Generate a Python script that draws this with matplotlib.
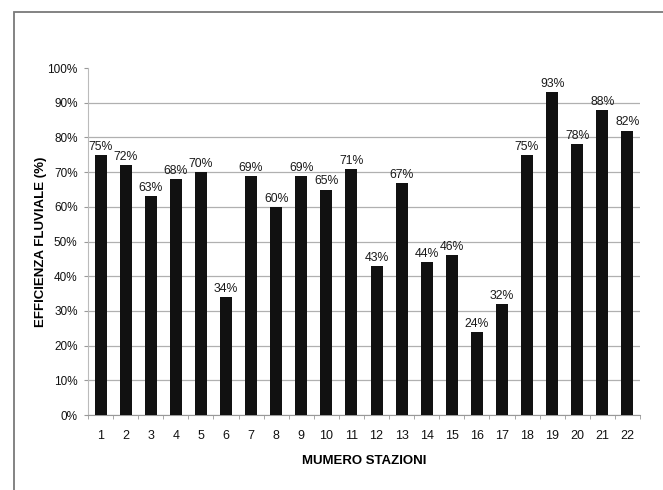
import numpy as np
import matplotlib.pyplot as plt
from matplotlib.patches import Rectangle
from matplotlib.ticker import FixedLocator

plt.rcParams['font.family'] = ['Liberation Sans', 'DejaVu Sans']

stazioni = np.arange(1, 23)
efficienza = [75, 72, 63, 68, 70, 34, 69, 60, 69, 65, 71,
              43, 67, 44, 46, 24, 32, 75, 93, 78, 88, 82]
yticks = [0, 10, 20, 30, 40, 50, 60, 70, 80, 90, 100]


def main():
    fig = plt.figure(figsize=(6.63, 4.9), dpi=100)
    ax = fig.add_axes([0.1327, 0.153, 0.8326, 0.708])

    # cornice grigia attorno al grafico
    fig.patches.append(Rectangle((0.021, -0.2), 1.2, 0.2 + 0.9755,
                                 transform=fig.transFigure, fill=False,
                                 edgecolor='#7a7a7a', linewidth=1.3))

    ax.bar(stazioni, efficienza, width=0.48, color='#111111', zorder=3)
    for x, v in zip(stazioni, efficienza):
        ax.annotate('%d%%' % v, (x, v), xytext=(0, 1.5), textcoords='offset points',
                    ha='center', va='bottom', fontsize=8.8, color='#1a1a1a')

    ax.set_xlim(0.5, 22.5)
    ax.set_ylim(0, 100)
    ax.set_xticks(stazioni)
    ax.xaxis.set_minor_locator(FixedLocator(np.arange(0.5, 23, 1)))
    ax.tick_params(axis='x', which='major', length=0, labelsize=9, pad=11,
                   labelcolor='#111111')
    ax.tick_params(axis='x', which='minor', length=3, color='#999999',
                   direction='out')
    ax.set_yticks(yticks)
    ax.set_yticklabels(['%d%%' % t for t in yticks])
    ax.tick_params(axis='y', length=3, color='#999999', labelsize=8.5, pad=4.5,
                   labelcolor='#111111')

    ax.yaxis.grid(True, color='#b0b0b0', linewidth=0.9, zorder=0)
    ax.yaxis.get_gridlines()[-1].set_visible(False)

    for s in ['top', 'right']:
        ax.spines[s].set_visible(False)
    ax.spines['left'].set_color('#bbbbbb')
    ax.spines['bottom'].set_color('#999999')

    ax.set_xlabel('MUMERO STAZIONI', fontsize=9.5, fontweight='bold', labelpad=9)
    ax.set_ylabel('EFFICIENZA FLUVIALE (%)', fontsize=9.5, fontweight='bold',
                  labelpad=0)

    fig.savefig('out.png', dpi=100)


if __name__ == '__main__':
    main()
